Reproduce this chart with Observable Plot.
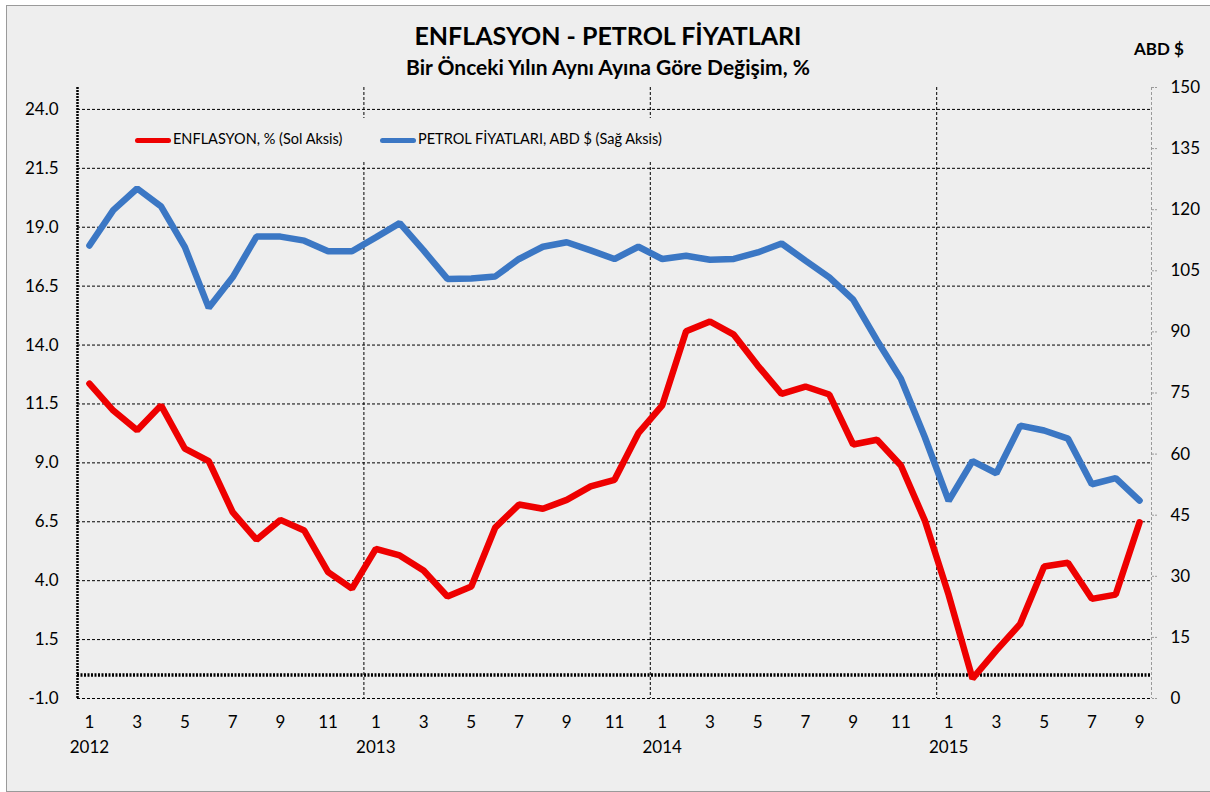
<!DOCTYPE html>
<html>
<head>
<meta charset="utf-8">
<script src="https://cdn.jsdelivr.net/npm/d3@7"></script>
<script src="https://cdn.jsdelivr.net/npm/@observablehq/plot@0.6"></script>
<style>
  body { margin: 0; background: #ffffff; }
  #wrap { position: relative; width: 1210px; height: 792px; overflow: hidden; font-family: Lato, "Open Sans", sans-serif; color: #000; }
  #frame { position: absolute; left: 6px; top: 5px; width: 1220px; height: 785px; border: 1px solid #9a9a9a; background: #eeeeee; }
  #chart { position: absolute; left: 0; top: 0; }
  .title { position: absolute; left: 0; width: 1216px; text-align: center; font-weight: bold; white-space: nowrap; }
  #t1 { top: 20px; font-size: 25px; }
  #t2 { top: 54px; font-size: 21px; }
  #abd { position: absolute; left: 1134px; top: 38px; font-size: 17px; font-weight: bold; }
  #legend { position: absolute; left: 118px; top: 118px; width: 580px; height: 44px; background: #eeeeee; font-size: 14.5px; }
  .sw { position: absolute; top: 20px; width: 36px; height: 5px; border-radius: 3px; }
  .lt { position: absolute; top: 12px; white-space: nowrap; }
</style>
</head>
<body>
<div id="wrap">
  <div id="frame"></div>
  <div id="chart"></div>
  <div id="legend"></div>
  <div class="title" id="t1"></div>
  <div class="title" id="t2"></div>
  <div id="abd"></div>
</div>
<script>
// ---- Texts ----
const titleText = "ENFLASYON - PETROL FİYATLARI";
const subtitleText = "Bir Önceki Yılın Aynı Ayına Göre Değişim, %";
const rightAxisTitle = "ABD $";
const seriesNames = ["ENFLASYON, % (Sol Aksis)", "PETROL FİYATLARI, ABD $ (Sağ Aksis)"];
const seriesColors = ["#ee0000", "#3b77c4"];

// ---- Categories ----
const years = [2012, 2013, 2014, 2015];
const monthsPerYear = [12, 12, 12, 9];

// ---- Series values ----
const enflasyon = [
  12.36, 11.22, 10.38, 11.44, 9.60, 9.07, 6.91, 5.74, 6.58, 6.13, 4.36, 3.66,
  5.35, 5.07, 4.43, 3.33, 3.75, 6.25, 7.23, 7.05, 7.43, 8.00, 8.28, 10.26,
  11.44, 14.59, 15.00, 14.44, 13.13, 11.93, 12.24, 11.90, 9.78, 9.98, 8.89, 6.56,
  3.40, -0.16, 1.04, 2.17, 4.60, 4.76, 3.23, 3.41, 6.48
];
const petrol = [
  111.2, 119.9, 125.2, 120.8, 110.8, 95.9, 103.4, 113.4, 113.4, 112.4, 109.8, 109.8,
  113.2, 116.7, 110.0, 103.0, 103.1, 103.6, 107.9, 110.9, 112.0, 110.0, 107.9, 110.9,
  107.9, 108.7, 107.7, 107.9, 109.5, 111.7, 107.5, 103.4, 97.9, 87.9, 78.5, 64.2,
  48.5, 58.3, 55.3, 67.0, 65.8, 63.8, 52.6, 54.1, 48.6
];

// ---- Tick labels ----
const leftTicks = [-1.0, 1.5, 4.0, 6.5, 9.0, 11.5, 14.0, 16.5, 19.0, 21.5, 24.0];
const rightTicks = [0, 15, 30, 45, 60, 75, 90, 105, 120, 135, 150];
const monthLabelStep = 2;

// ---- Build table ----
const data = [];
years.forEach((yr, yi) => {
  for (let m = 1; m <= monthsPerYear[yi]; m++) {
    const i = data.length;
    data.push({ i, year: yr, month: m, enf: enflasyon[i], pet: petrol[i] });
  }
});
const yearStarts = data.filter(d => d.month === 1).map(d => d.i);
const yearBoundaries = yearStarts.slice(1).map(i => i - 0.5);
const monthTicks = data.filter(d => (d.month - 1) % monthLabelStep === 0).map(d => d.i);

// Left axis spans -1..24 on 589px of a 611px-high frame; right axis 0..150 on the full frame
const yMin = -1, yMax = 24.93;
const rMax = 150;
const toLeft = p => yMin + p * (yMax - yMin) / rMax;
const fromLeft = v => (v - yMin) * rMax / (yMax - yMin);

const chart = Plot.plot({
  width: 1210,
  height: 792,
  marginLeft: 77,
  marginRight: 59,
  marginTop: 87,
  marginBottom: 94,
  style: { background: "transparent", fontFamily: "Lato, 'Open Sans', sans-serif", fontSize: "17px", color: "#000" },
  x: { type: "linear", domain: [-0.5, data.length - 0.5] },
  y: { type: "linear", domain: [yMin, yMax] },
  marks: [
    Plot.ruleY(leftTicks, { stroke: "#000", strokeWidth: 1, strokeDasharray: "3,2" }),
    Plot.ruleX(yearBoundaries, { stroke: "#000", strokeWidth: 1, strokeDasharray: "3,2" }),
    Plot.ruleY([0], { stroke: "#000", strokeWidth: 3.5, strokeDasharray: "2,1.5" }),
    Plot.ruleX([-0.5], { stroke: "#000", strokeWidth: 2.5, strokeDasharray: "2,1" }),
    Plot.ruleX([data.length - 0.5], { stroke: "#9a9a9a", strokeWidth: 1, strokeDasharray: "3,2" }),
    Plot.line(data, { x: "i", y: "enf", stroke: seriesColors[0], strokeWidth: 6.5, strokeLinejoin: "miter", strokeLinecap: "round" }),
    Plot.line(data, { x: "i", y: d => toLeft(d.pet), stroke: seriesColors[1], strokeWidth: 6.5, strokeLinejoin: "miter", strokeLinecap: "round" }),
    Plot.axisY({ anchor: "left", ticks: leftTicks, tickFormat: d => d.toFixed(1), tickSize: 0, tickPadding: 19, fontSize: 17, label: null }),
    Plot.axisY({ anchor: "right", ticks: rightTicks.map(toLeft), tickFormat: d => String(Math.round(fromLeft(d))), tickSize: 6, tickPadding: 13, stroke: "#9a9a9a", strokeDasharray: "2,1", fontSize: 17, label: null }),
    Plot.axisX({ ticks: monthTicks, tickFormat: i => String(data[i].month), tickSize: 0, tickPadding: 17, fontSize: 17, label: null }),
    Plot.axisX({ ticks: yearStarts, tickFormat: i => String(data[i].year), tickSize: 0, tickPadding: 42, fontSize: 17, label: null })
  ]
});
document.getElementById("chart").appendChild(chart);

document.getElementById("t1").textContent = titleText;
document.getElementById("t2").textContent = subtitleText;
document.getElementById("abd").textContent = rightAxisTitle;

const legend = document.getElementById("legend");
const legendPos = [[17, 55], [262, 300]];
seriesNames.forEach((name, k) => {
  const sw = document.createElement("div");
  sw.className = "sw";
  sw.style.left = legendPos[k][0] + "px";
  sw.style.background = seriesColors[k];
  legend.appendChild(sw);
  const t = document.createElement("div");
  t.className = "lt";
  t.style.left = legendPos[k][1] + "px";
  t.textContent = name;
  legend.appendChild(t);
});
</script>
</body>
</html>
